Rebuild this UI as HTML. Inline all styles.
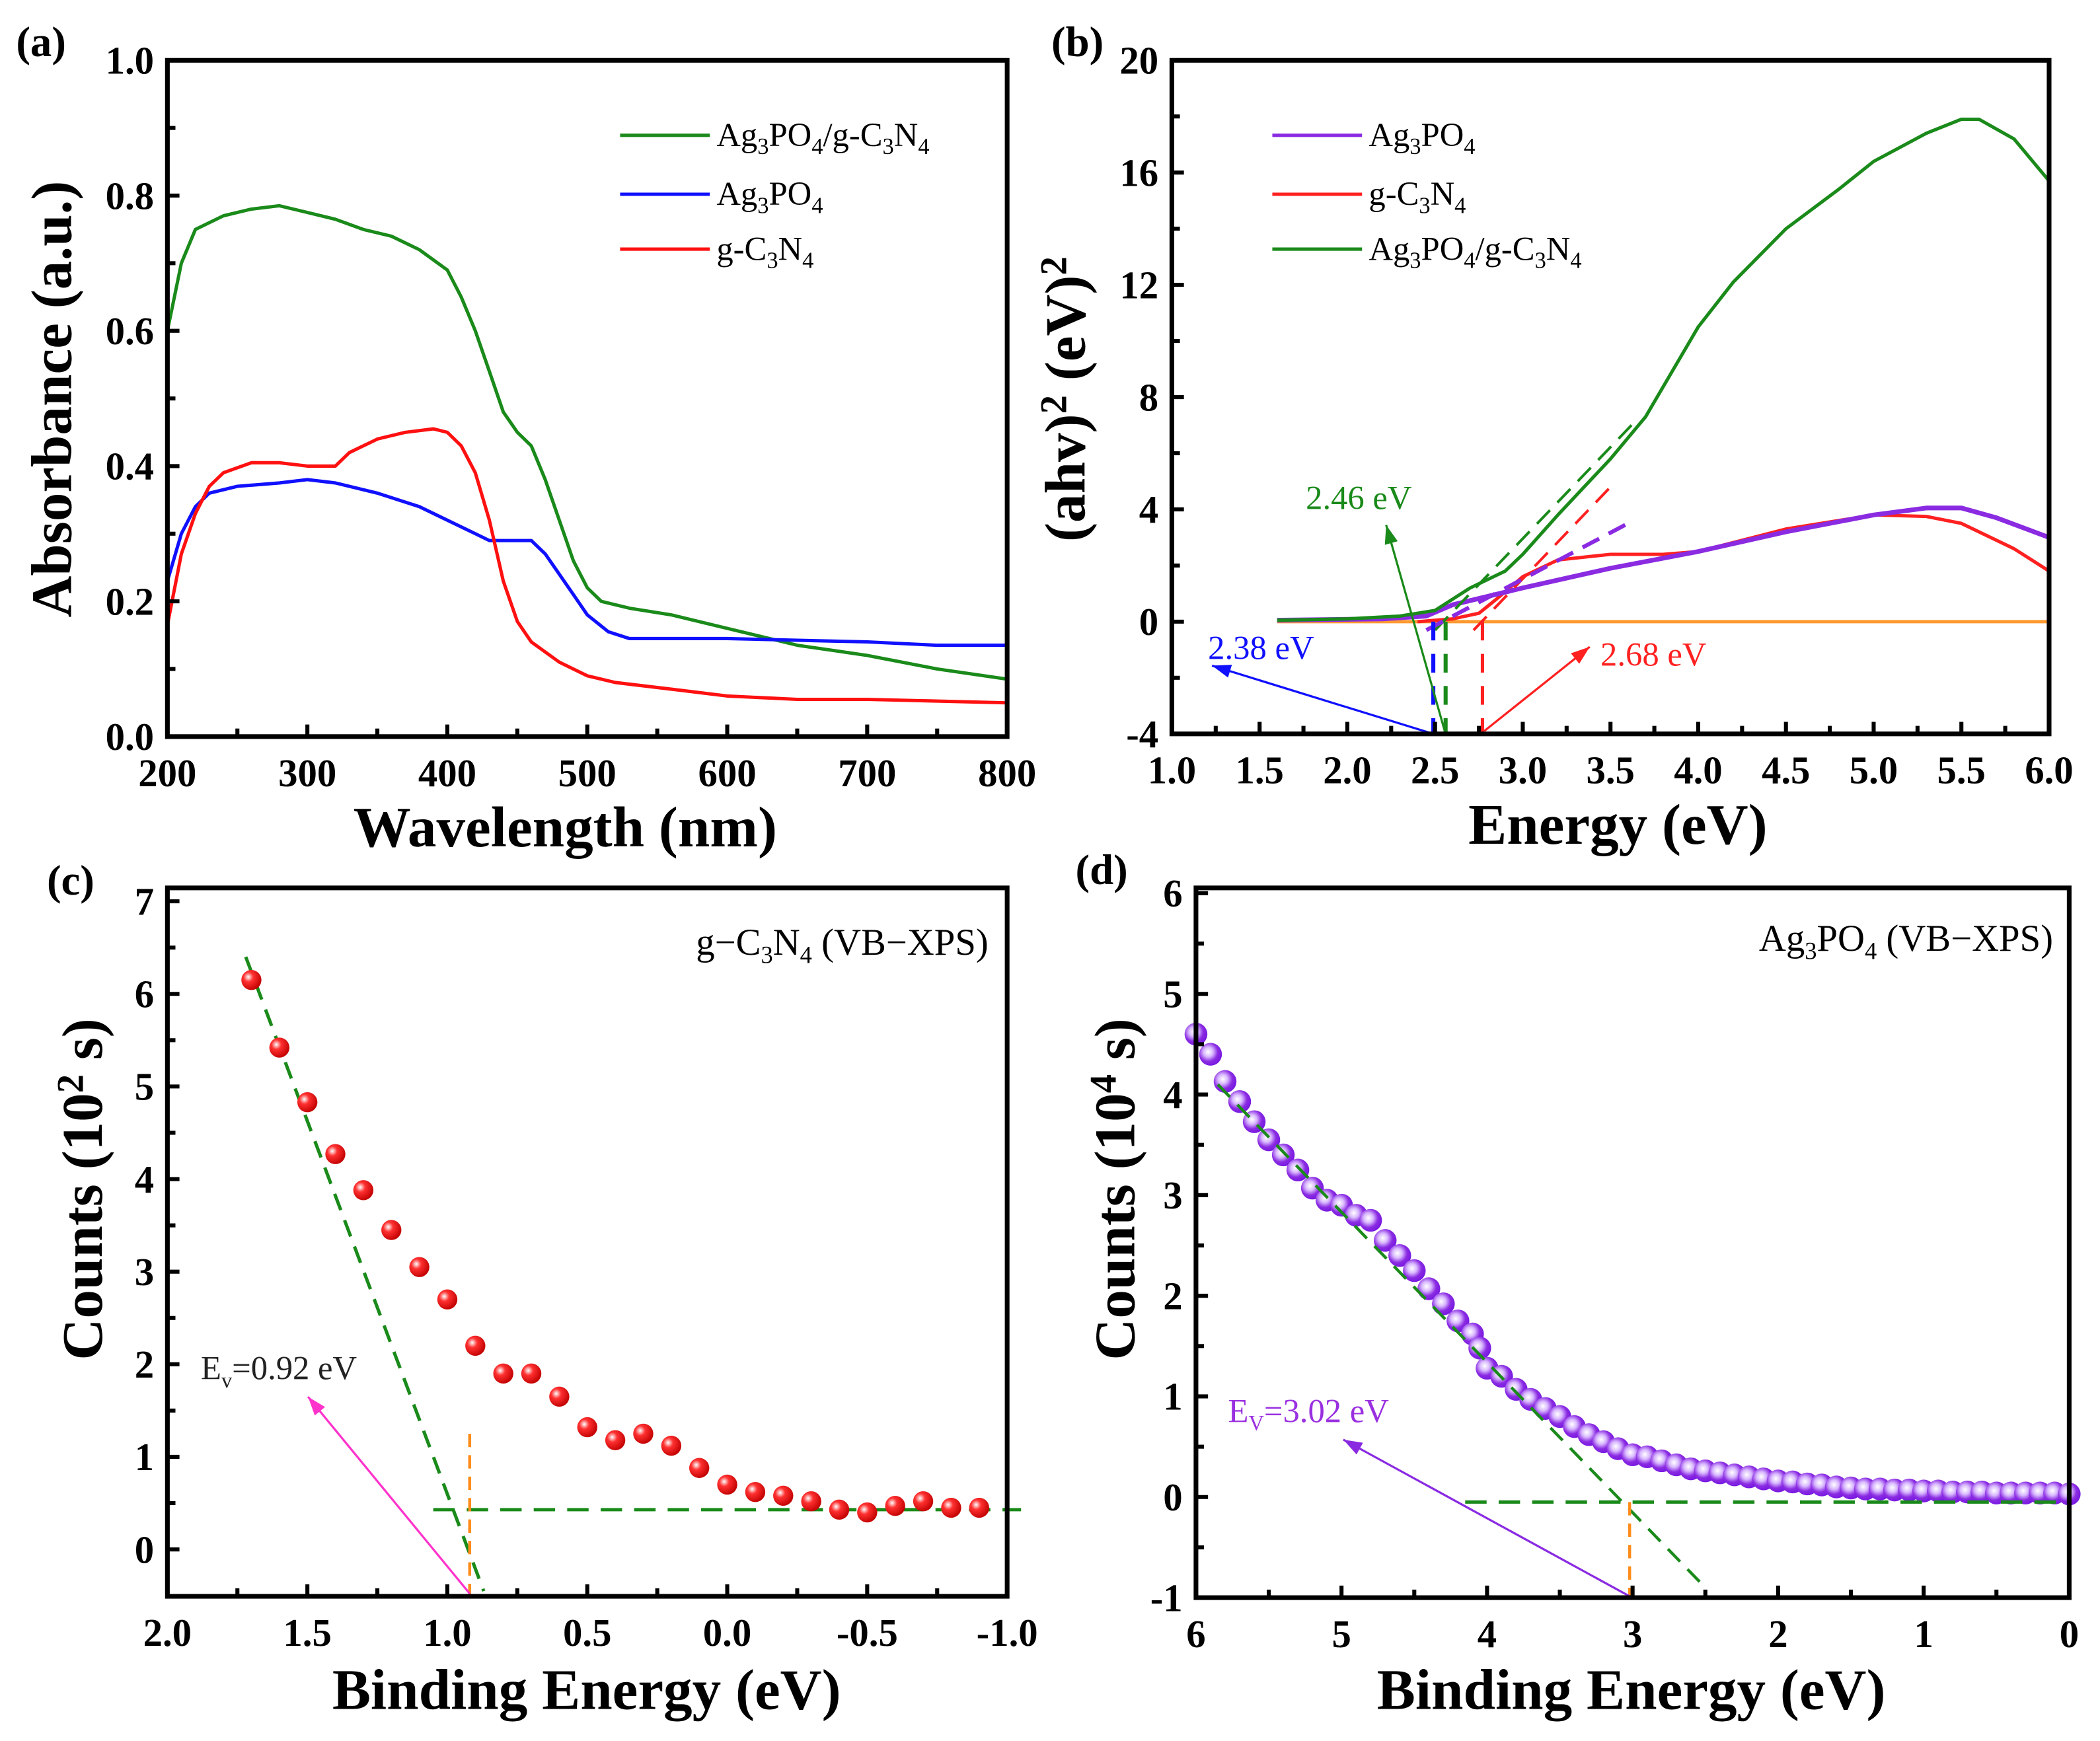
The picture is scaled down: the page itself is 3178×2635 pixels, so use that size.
<!DOCTYPE html>
<html><head><meta charset="utf-8"><style>
html,body{margin:0;padding:0;background:#fff;}
svg{display:block;}
text{font-family:"Liberation Serif",serif;}
</style></head><body>
<svg id="fig" width="3178" height="2635" viewBox="0 0 1568 1300" xmlns="http://www.w3.org/2000/svg">
<defs>
<radialGradient id="gRed" cx="0.35" cy="0.35" r="0.7"><stop offset="0" stop-color="#fff"/><stop offset="0.35" stop-color="#ff3030"/><stop offset="1" stop-color="#c00000"/></radialGradient>
<radialGradient id="gPur" cx="0.4" cy="0.4" r="0.7"><stop offset="0" stop-color="#fff"/><stop offset="0.3" stop-color="#d9b8ff"/><stop offset="0.6" stop-color="#8a2be2"/><stop offset="1" stop-color="#7010e0"/></radialGradient>
</defs>
</svg>
<script>
// ---------- data ----------
const aWl = [200,210,220,240,260,280,300,320,340,360,380,400,410,420,430,440,450,460,470,480,490,500,510,530,560,600,650,700,750,800];
const aGreen = [0.6,0.7,0.75,0.77,0.78,0.785,0.775,0.765,0.75,0.74,0.72,0.69,0.65,0.6,0.54,0.48,0.45,0.43,0.38,0.32,0.26,0.22,0.2,0.19,0.18,0.16,0.135,0.12,0.1,0.085];
const aBlueX = [200,210,220,230,250,280,300,320,350,380,400,420,430,460,470,490,500,515,530,600,700,750,800];
const aBlue = [0.23,0.3,0.34,0.36,0.37,0.375,0.38,0.375,0.36,0.34,0.32,0.3,0.29,0.29,0.27,0.21,0.18,0.155,0.145,0.145,0.14,0.135,0.135];
const aRedX = [200,210,220,230,240,260,280,300,320,330,350,370,390,400,410,420,430,440,450,460,480,500,520,560,600,650,700,800];
const aRed = [0.165,0.27,0.33,0.37,0.39,0.405,0.405,0.4,0.4,0.42,0.44,0.45,0.455,0.45,0.43,0.39,0.32,0.23,0.17,0.14,0.11,0.09,0.08,0.07,0.06,0.055,0.055,0.05];

const bPurX = [1.6,2.2,2.45,2.6,3.0,3.5,4.0,4.5,5.0,5.3,5.5,5.7,6.0];
const bPur = [0.05,0.1,0.2,0.6,1.2,1.9,2.5,3.2,3.8,4.05,4.05,3.7,3.0];
const bRedX = [2.4,2.6,2.75,2.85,3.0,3.2,3.5,3.8,4.0,4.5,5.0,5.3,5.5,5.8,6.0];
const bRed = [0,0.1,0.3,0.8,1.6,2.2,2.4,2.4,2.5,3.3,3.8,3.75,3.5,2.6,1.8];
const bGrnX = [1.6,2.0,2.3,2.5,2.7,2.9,3.0,3.2,3.5,3.7,4.0,4.2,4.5,4.8,5.0,5.3,5.5,5.6,5.8,6.0];
const bGrn = [0.05,0.1,0.2,0.4,1.2,1.8,2.4,3.8,5.8,7.3,10.5,12.1,14,15.4,16.4,17.4,17.9,17.9,17.2,15.7];

const cX = [1.7,1.6,1.5,1.4,1.3,1.2,1.1,1.0,0.9,0.8,0.7,0.6,0.5,0.4,0.3,0.2,0.1,0.0,-0.1,-0.2,-0.3,-0.4,-0.5,-0.6,-0.7,-0.8,-0.9];
const cY = [6.15,5.42,4.83,4.27,3.88,3.45,3.05,2.7,2.2,1.9,1.9,1.65,1.32,1.18,1.25,1.12,0.88,0.7,0.62,0.58,0.52,0.43,0.4,0.47,0.52,0.45,0.45];

const dX = [6.0,5.9,5.8,5.7,5.6,5.5,5.4,5.3,5.2,5.1,5.0,4.9,4.8,4.7,4.6,4.5,4.4,4.3,4.2,4.1,4.05,4.0,3.9,3.8,3.7,3.6,3.5,3.4,3.3,3.2,3.1,3.0,2.9,2.8,2.7,2.6,2.5,2.4,2.3,2.2,2.1,2.0,1.9,1.8,1.7,1.6,1.5,1.4,1.3,1.2,1.1,1.0,0.9,0.8,0.7,0.6,0.5,0.4,0.3,0.2,0.1,0.0];
const dY = [4.6,4.4,4.13,3.93,3.73,3.55,3.4,3.25,3.07,2.95,2.9,2.8,2.75,2.55,2.4,2.25,2.07,1.92,1.75,1.62,1.48,1.28,1.2,1.07,0.97,0.88,0.8,0.7,0.62,0.55,0.48,0.42,0.4,0.36,0.32,0.28,0.26,0.24,0.22,0.2,0.18,0.16,0.15,0.13,0.12,0.1,0.09,0.08,0.08,0.07,0.07,0.06,0.06,0.05,0.05,0.05,0.04,0.04,0.04,0.04,0.04,0.03];

const aXTicks = ["200","300","400","500","600","700","800"];
const aYTicks = ["0.0","0.2","0.4","0.6","0.8","1.0"];
const bXTicks = ["1.0","1.5","2.0","2.5","3.0","3.5","4.0","4.5","5.0","5.5","6.0"];
const bYTicks = ["-4","0","4","8","12","16","20"];
const cXTicks = ["2.0","1.5","1.0","0.5","0.0","-0.5","-1.0"];
const cYTicks = ["0","1","2","3","4","5","6","7"];
const dXTicks = ["6","5","4","3","2","1","0"];
const dYTicks = ["-1","0","1","2","3","4","5","6"];

// ---------- helpers ----------
const NS="http://www.w3.org/2000/svg";
const svg=document.getElementById('fig');
function mk(tag,attrs,parent){const e=document.createElementNS(NS,tag);for(const k in attrs)e.setAttribute(k,attrs[k]);(parent||svg).appendChild(e);return e;}
function lin(d0,d1,p0,p1){return v=>p0+(v-d0)*(p1-p0)/(d1-d0);}
function txt(s,x,y,size,attrs,parent){const t=mk('text',Object.assign({x:x,y:y,'font-size':size},attrs||{}),parent);t.innerHTML=s;return t;}

function frame(g,L,T,R,B,xs,xt,ys,yt){
  xt.forEach(s=>{const v=parseFloat(s),x=xs(v);
    mk('line',{x1:x,x2:x,y1:B,y2:B-9,stroke:'#000','stroke-width':3},g);
    const l=txt(s,x,B+37,29,{'text-anchor':'middle','font-weight':'bold'},g);
    });
  for(let i=0;i<xt.length-1;i++){const v=(parseFloat(xt[i])+parseFloat(xt[i+1]))/2;const x=xs(v);
    mk('line',{x1:x,x2:x,y1:B,y2:B-6,stroke:'#000','stroke-width':3},g);}
  yt.forEach(s=>{const v=parseFloat(s),y=ys(v);
    mk('line',{x1:L,x2:L+9,y1:y,y2:y,stroke:'#000','stroke-width':3},g);
    const l=txt(s,L-10,y+10,29,{'text-anchor':'end','font-weight':'bold'},g);
    });
  for(let i=0;i<yt.length-1;i++){const v=(parseFloat(yt[i])+parseFloat(yt[i+1]))/2;const y=ys(v);
    mk('line',{x1:L,x2:L+6,y1:y,y2:y,stroke:'#000','stroke-width':3},g);}
  const r=mk('rect',{x:L,y:T,width:R-L,height:B-T,fill:'none',stroke:'#000','stroke-width':3.5},g);
  
}
function poly(g,xs,ys,X,Y,color,w,dash,name){
  const pts=X.map((v,i)=>xs(v).toFixed(1)+','+ys(Y[i]).toFixed(1)).join(' ');
  const p=mk('polyline',{points:pts,fill:'none',stroke:color,'stroke-width':w||2.5,'stroke-dasharray':dash||'none','stroke-linejoin':'round'},g);
  return p;
}
function arrow(g,x1,y1,x2,y2,color,name){
  const e=mk('g',{},g);
  
  mk('line',{x1:x1,y1:y1,x2:x2,y2:y2,stroke:color,'stroke-width':1.6},e);
  const a=Math.atan2(y2-y1,x2-x1),L=14,W=5;
  const bx=x2-L*Math.cos(a),by=y2-L*Math.sin(a);
  mk('polygon',{points:`${x2},${y2} ${bx-W*Math.sin(a)},${by+W*Math.cos(a)} ${bx+W*Math.sin(a)},${by-W*Math.cos(a)}`,fill:color},e);
}

// ---------- panel a ----------
{
const g=mk('g',{});
const L=125,R=752,T=45,B=550;
const xs=lin(200,800,L,R), ys=lin(0,1,B,T);
poly(g,xs,ys,aWl,aGreen,'#1a8a1a',2.5,null,'series-ag3po4-gc3n4');
poly(g,xs,ys,aBlueX,aBlue,'#1010ff',2.5,null,'series-ag3po4');
poly(g,xs,ys,aRedX,aRed,'#ff1010',2.5,null,'series-gc3n4');
frame(g,L,T,R,B,xs,aXTicks,ys,aYTicks);
const lab=txt('(a)',12,42,32,{'font-weight':'bold'},g);
const xt=txt('Wavelength (nm)',422,632,43,{'text-anchor':'middle','font-weight':'bold'},g);
const yt=txt('Absorbance (a.u.)',0,0,43,{'text-anchor':'middle','font-weight':'bold',transform:'translate(53,298) rotate(-90)'},g);
const leg=[['#1a8a1a','Ag<tspan font-size="17" dy="6">3</tspan><tspan dy="-6">PO</tspan><tspan font-size="17" dy="6">4</tspan><tspan dy="-6">/g-C</tspan><tspan font-size="17" dy="6">3</tspan><tspan dy="-6">N</tspan><tspan font-size="17" dy="6">4</tspan>',101],
['#1010ff','Ag<tspan font-size="17" dy="6">3</tspan><tspan dy="-6">PO</tspan><tspan font-size="17" dy="6">4</tspan>',145],
['#ff1010','g-C<tspan font-size="17" dy="6">3</tspan><tspan dy="-6">N</tspan><tspan font-size="17" dy="6">4</tspan>',186]];
leg.forEach(l=>{const e=mk('g',{},g);
  mk('line',{x1:463,x2:530,y1:l[2],y2:l[2],stroke:l[0],'stroke-width':2.5},e);txt(l[1],535,l[2]+8,25,{},e);});
}
// ---------- panel b ----------
{
const g=mk('g',{});
const L=875,R=1530,T=45,B=548;
const xs=lin(1,6,L,R), ys=lin(-4,20,B,T);
const base=mk('line',{x1:xs(1.6),x2:R,y1:ys(0),y2:ys(0),stroke:'#ff9a30','stroke-width':2.5},g);
poly(g,xs,ys,bRedX,bRed,'#ff2020',2.5,null,'series-gc3n4');
poly(g,xs,ys,bPurX,bPur,'#8a2be2',3.5,null,'series-ag3po4');
poly(g,xs,ys,bGrnX,bGrn,'#1a8a1a',2.5,null,'series-ag3po4-gc3n4');
poly(g,xs,ys,[2.5,3.65],[-0.3,7.2],'#1a8a1a',2,'14,8','tangent-green');
poly(g,xs,ys,[2.72,3.5],[-0.3,4.8],'#ff2020',2,'14,8','tangent-red');
poly(g,xs,ys,[2.45,3.6],[-0.3,3.5],'#8a2be2',3,'14,8','tangent-purple');
poly(g,xs,ys,[2.49,2.49],[0,-4],'#1010ff',3,'14,10','vline-238');
poly(g,xs,ys,[2.56,2.56],[0,-4],'#1a8a1a',3,'14,10','vline-246');
poly(g,xs,ys,[2.77,2.77],[0,-4],'#ff2020',2.5,'14,10','vline-268');
arrow(g,xs(2.49),ys(-4),905,497,'#1010ff','arrow-238');
arrow(g,xs(2.56),ys(-4),1035,392,'#1a8a1a','arrow-246');
arrow(g,xs(2.78),ys(-3.9),1187,483,'#ff2020','arrow-268');
let t=txt('2.38 eV',902,492,25,{fill:'#1010ff'},g);
t=txt('2.46 eV',975,380,25,{fill:'#1a8a1a'},g);
t=txt('2.68 eV',1195,497,25,{fill:'#ff2020'},g);
frame(g,L,T,R,B,xs,bXTicks,ys,bYTicks);
const lab=txt('(b)',785,42,32,{'font-weight':'bold'},g);
const xt=txt('Energy (eV)',1208,630,43,{'text-anchor':'middle','font-weight':'bold'},g);
const yt=txt('(ahv)<tspan font-size="28" dy="-14">2</tspan><tspan dy="14"> (eV)</tspan><tspan font-size="28" dy="-14">2</tspan>',0,0,43,{'text-anchor':'middle','font-weight':'bold',transform:'translate(810,298) rotate(-90)'},g);
const leg=[['#8a2be2','Ag<tspan font-size="17" dy="6">3</tspan><tspan dy="-6">PO</tspan><tspan font-size="17" dy="6">4</tspan>',101],
['#ff2020','g-C<tspan font-size="17" dy="6">3</tspan><tspan dy="-6">N</tspan><tspan font-size="17" dy="6">4</tspan>',145],
['#1a8a1a','Ag<tspan font-size="17" dy="6">3</tspan><tspan dy="-6">PO</tspan><tspan font-size="17" dy="6">4</tspan><tspan dy="-6">/g-C</tspan><tspan font-size="17" dy="6">3</tspan><tspan dy="-6">N</tspan><tspan font-size="17" dy="6">4</tspan>',186]];
leg.forEach(l=>{const e=mk('g',{},g);
  mk('line',{x1:950,x2:1017,y1:l[2],y2:l[2],stroke:l[0],'stroke-width':2.5},e);txt(l[1],1022,l[2]+8,25,{},e);});
}
// ---------- panel c ----------
{
const g=mk('g',{});
const L=125,R=752,T=663,B=1192;
const xs=lin(2,-1,L,R), ys=lin(0,7,1157,673);
poly(g,xs,ys,[1.72,0.87],[6.4,-0.45],'#1a8a1a',2.5,'13,8','tangent-line');
poly(g,xs,ys,[1.05,-1.05],[0.43,0.43],'#1a8a1a',2.5,'16,9','baseline-fit');
poly(g,xs,ys,[0.92,0.92],[1.25,-0.5],'#ff8c1a',2.2,'10,6','ev-marker');
cX.forEach((v,i)=>{const c=mk('circle',{cx:xs(v),cy:ys(cY[i]),r:7.5,fill:'url(#gRed)'},g);
  });
arrow(g,xs(0.92),B-2,230,1043,'#ff33cc','arrow-ev');
let t=txt('E<tspan font-size="16" dy="6">v</tspan><tspan dy="-6">=0.92 eV</tspan>',150,1030,25,{fill:'#222'},g);
t=txt('g−C<tspan font-size="18" dy="6">3</tspan><tspan dy="-6">N</tspan><tspan font-size="18" dy="6">4</tspan><tspan dy="-6"> (VB−XPS)</tspan>',738,713,28,{'text-anchor':'end'},g);
frame(g,L,T,R,B,xs,cXTicks,ys,cYTicks);
const lab=txt('(c)',35,668,32,{'font-weight':'bold'},g);
const xt=txt('Binding Energy (eV)',438,1276,43,{'text-anchor':'middle','font-weight':'bold'},g);
const yt=txt('Counts (10<tspan font-size="28" dy="-14">2</tspan><tspan dy="14"> s)</tspan>',0,0,43,{'text-anchor':'middle','font-weight':'bold',transform:'translate(76,888) rotate(-90)'},g);
}
// ---------- panel d ----------
{
const g=mk('g',{});
const L=893,R=1545,T=663,B=1193;
const xs=lin(6,0,L,R), ys=lin(-1,6,B,667);
dX.forEach((v,i)=>{const c=mk('circle',{cx:xs(v),cy:ys(dY[i]),r:8.5,fill:'url(#gPur)'},g);
  });
poly(g,xs,ys,[5.85,2.5],[4.1,-0.9],'#1a8a1a',2.2,'13,8','tangent-line');
poly(g,xs,ys,[4.15,0],[-0.05,-0.05],'#1a8a1a',2.5,'16,9','baseline-fit');
poly(g,xs,ys,[3.02,3.02],[-0.05,-1],'#ff8c1a',2.2,'10,6','ev-marker');
arrow(g,xs(3.02),B-1,1003,1075,'#8a2be2','arrow-ev');
let t=txt('E<tspan font-size="16" dy="6">V</tspan><tspan dy="-6">=3.02 eV</tspan>',917,1062,25,{fill:'#9a30e0'},g);
t=txt('Ag<tspan font-size="18" dy="6">3</tspan><tspan dy="-6">PO</tspan><tspan font-size="18" dy="6">4</tspan><tspan dy="-6"> (VB−XPS)</tspan>',1533,710,28,{'text-anchor':'end'},g);
frame(g,L,T,R,B,xs,dXTicks,ys,dYTicks);
const lab=txt('(d)',803,660,32,{'font-weight':'bold'},g);
const xt=txt('Binding Energy (eV)',1218,1276,43,{'text-anchor':'middle','font-weight':'bold'},g);
const yt=txt('Counts (10<tspan font-size="28" dy="-14">4</tspan><tspan dy="14"> s)</tspan>',0,0,43,{'text-anchor':'middle','font-weight':'bold',transform:'translate(847,888) rotate(-90)'},g);
}
</script>
</body></html>
